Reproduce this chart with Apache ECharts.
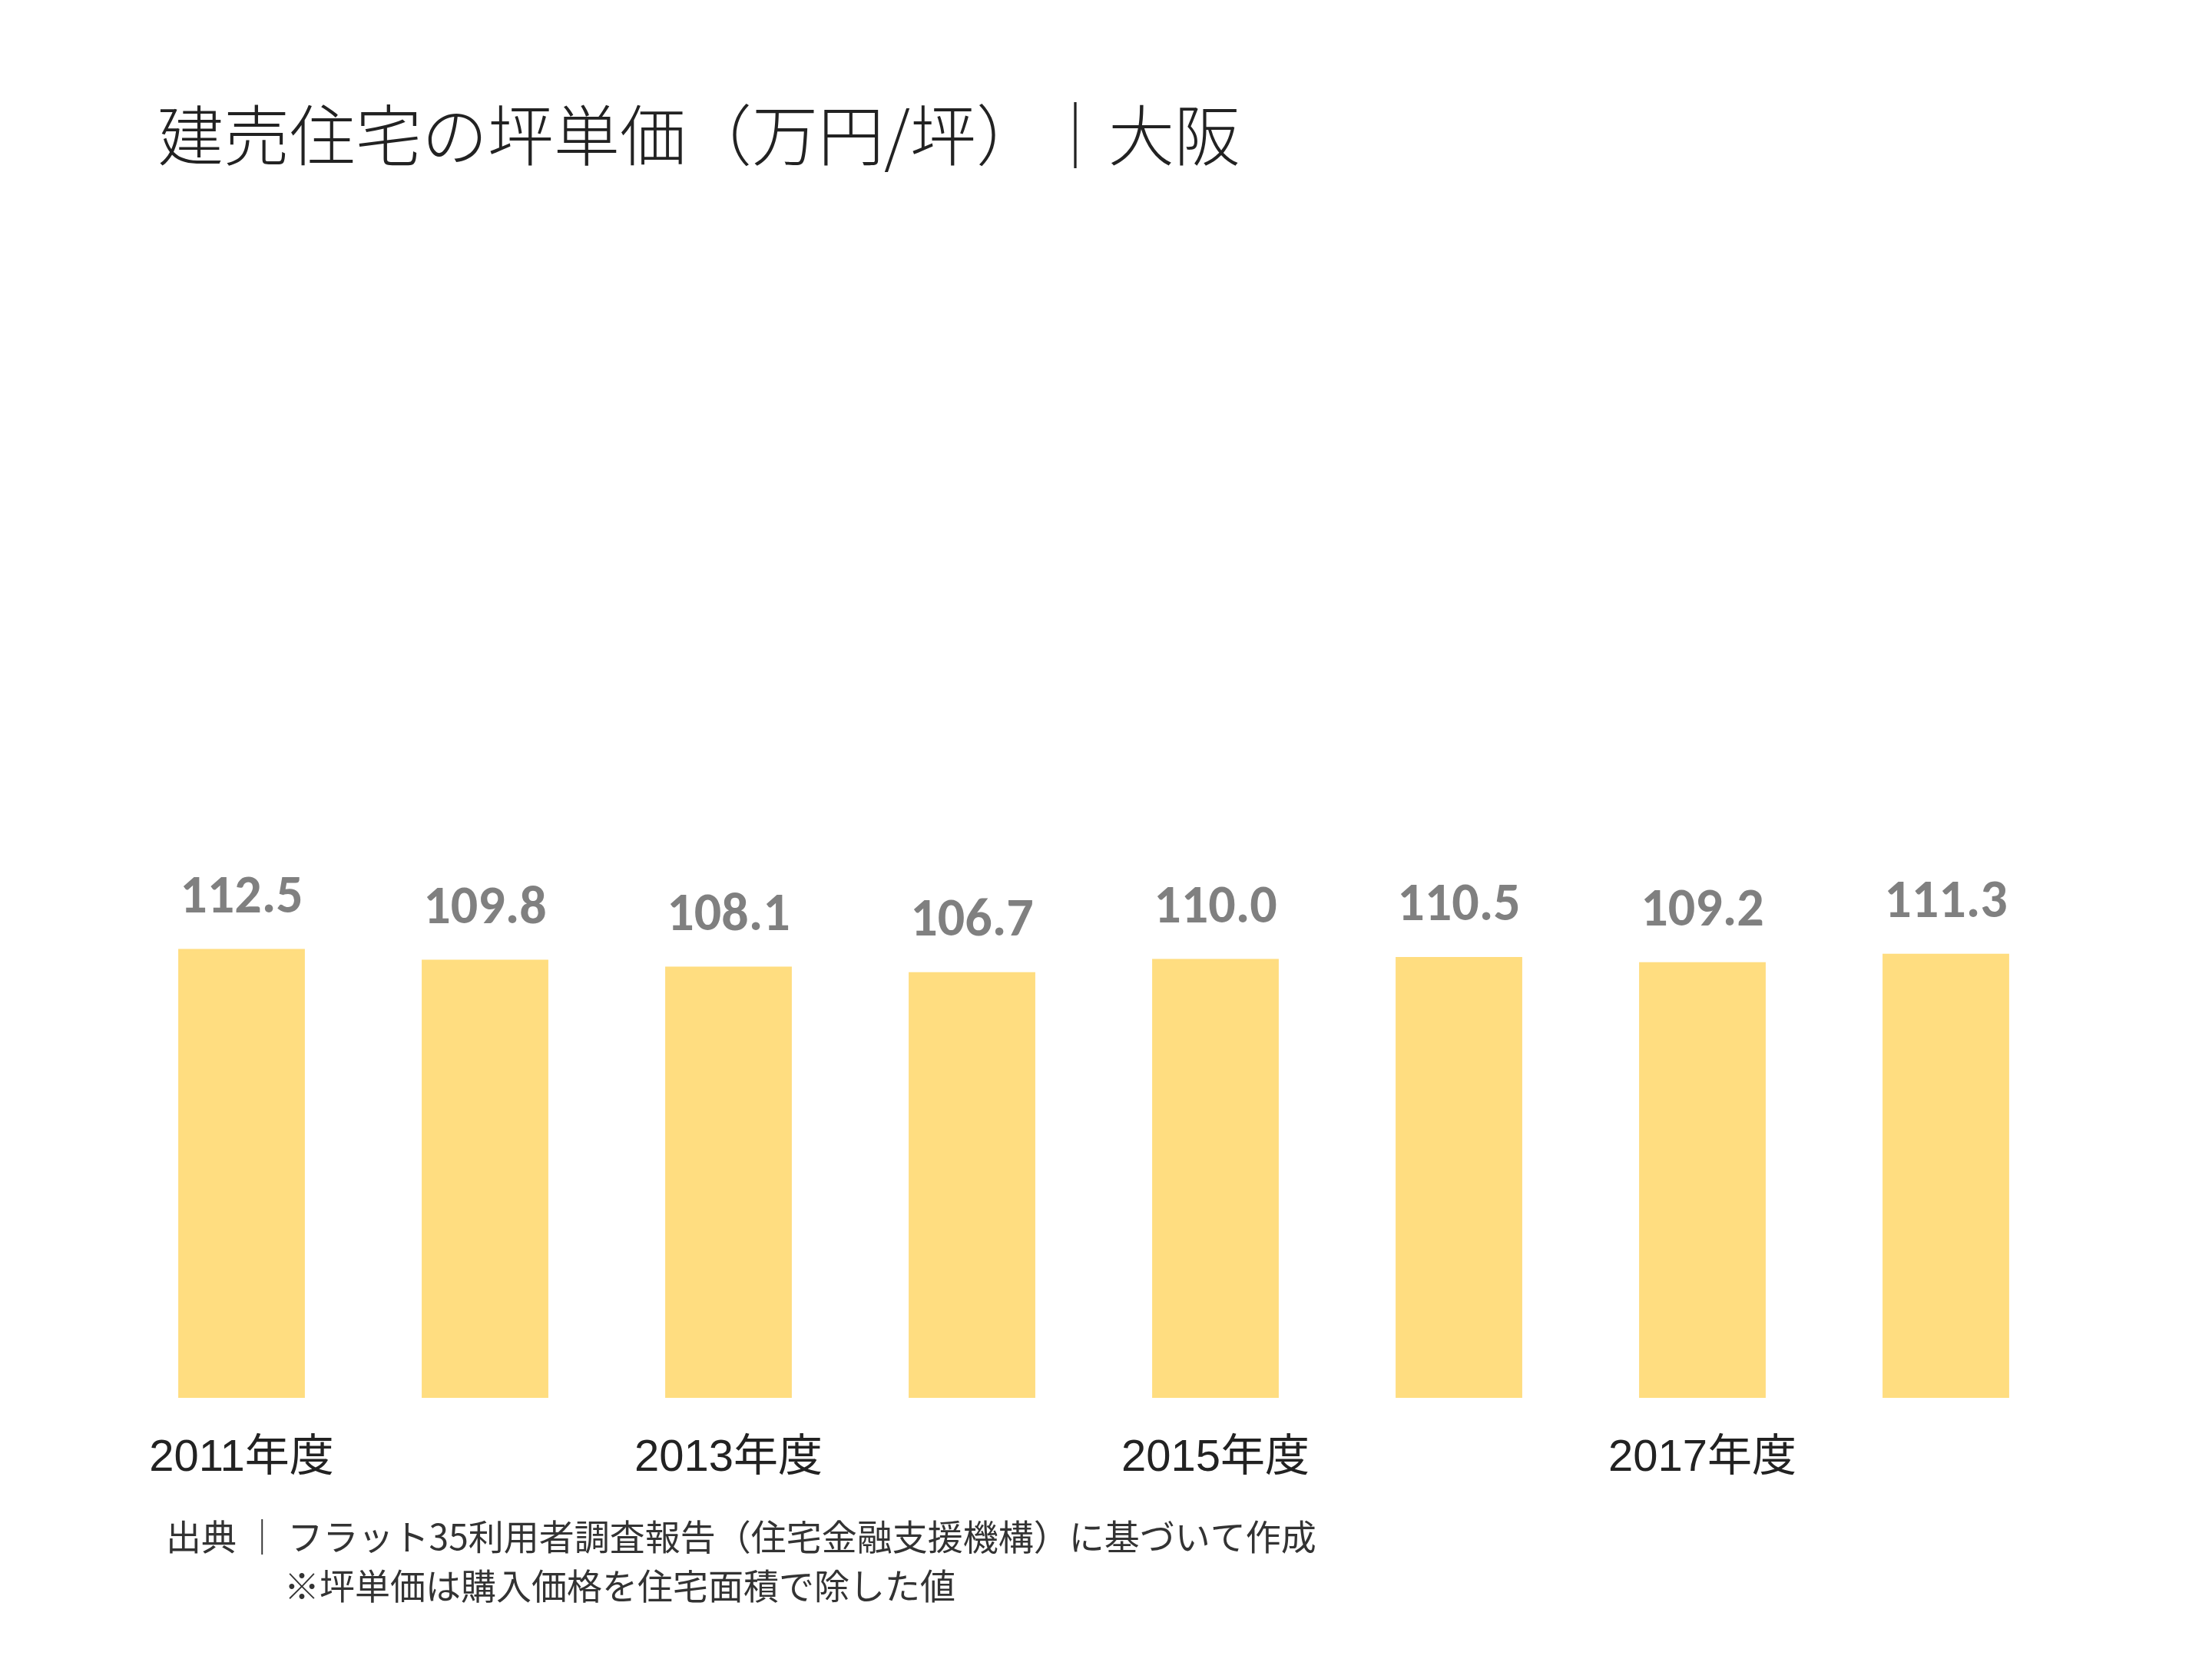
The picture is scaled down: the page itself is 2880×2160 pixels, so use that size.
<!DOCTYPE html>
<html><head><meta charset="utf-8">
<script src="https://cdn.jsdelivr.net/npm/echarts@6/dist/echarts.min.js"></script>
<style>html,body{margin:0;padding:0;background:#fff}#c{width:2880px;height:2160px}</style>
</head><body><div id="c"></div>
<script>
const categories = ['2011年度','2012年度','2013年度','2014年度','2015年度','2016年度','2017年度','2018年度'];
const values = [112.5,109.8,108.1,106.7,110.0,110.5,109.2,111.3];
const titleText = '建売住宅の坪単価（万円/坪）｜大阪';
const sourceLine1 = '出典 ｜ フラット35利用者調査報告（住宅金融支援機構）に基づいて作成';
const sourceLine2 = '※坪単価は購入価格を住宅面積で除した値';
const font = '"Noto Sans CJK JP", "Noto Sans", sans-serif';
const chart = echarts.init(document.getElementById('c'));
chart.setOption({
  backgroundColor:'#fff',
  animation:false,
  title:{text:titleText,left:200,top:128,textStyle:{fontFamily:font,fontSize:86,fontWeight:300,color:'#222'}},
  graphic:[
    {type:'text',left:216,top:1978,style:{text:sourceLine1,fontFamily:font,fontSize:46,fill:'#333'}},
    {type:'text',left:370,top:2042,style:{text:sourceLine2,fontFamily:font,fontSize:46,fill:'#333'}}
  ],
  grid:{left:156,right:188,top:781,bottom:340},
  xAxis:{type:'category',data:categories,axisLine:{show:false},axisTick:{show:false},
    axisLabel:{fontFamily:'Arial, "Liberation Sans", "Noto Sans CJK JP"',fontSize:58,color:'#222',margin:50}},
  yAxis:{type:'value',min:0,max:200,show:false,splitLine:{show:false}},
  series:[{type:'bar',data:values,barWidth:'52%',itemStyle:{color:'#FFDD80'},
    label:{show:true,position:'top',distance:30,formatter:p=>p.value.toFixed(1),
      fontFamily:'Calibri, Carlito, "Open Sans", sans-serif',fontWeight:'bold',fontSize:70,color:'#808080'}}]
});
</script></body></html>
